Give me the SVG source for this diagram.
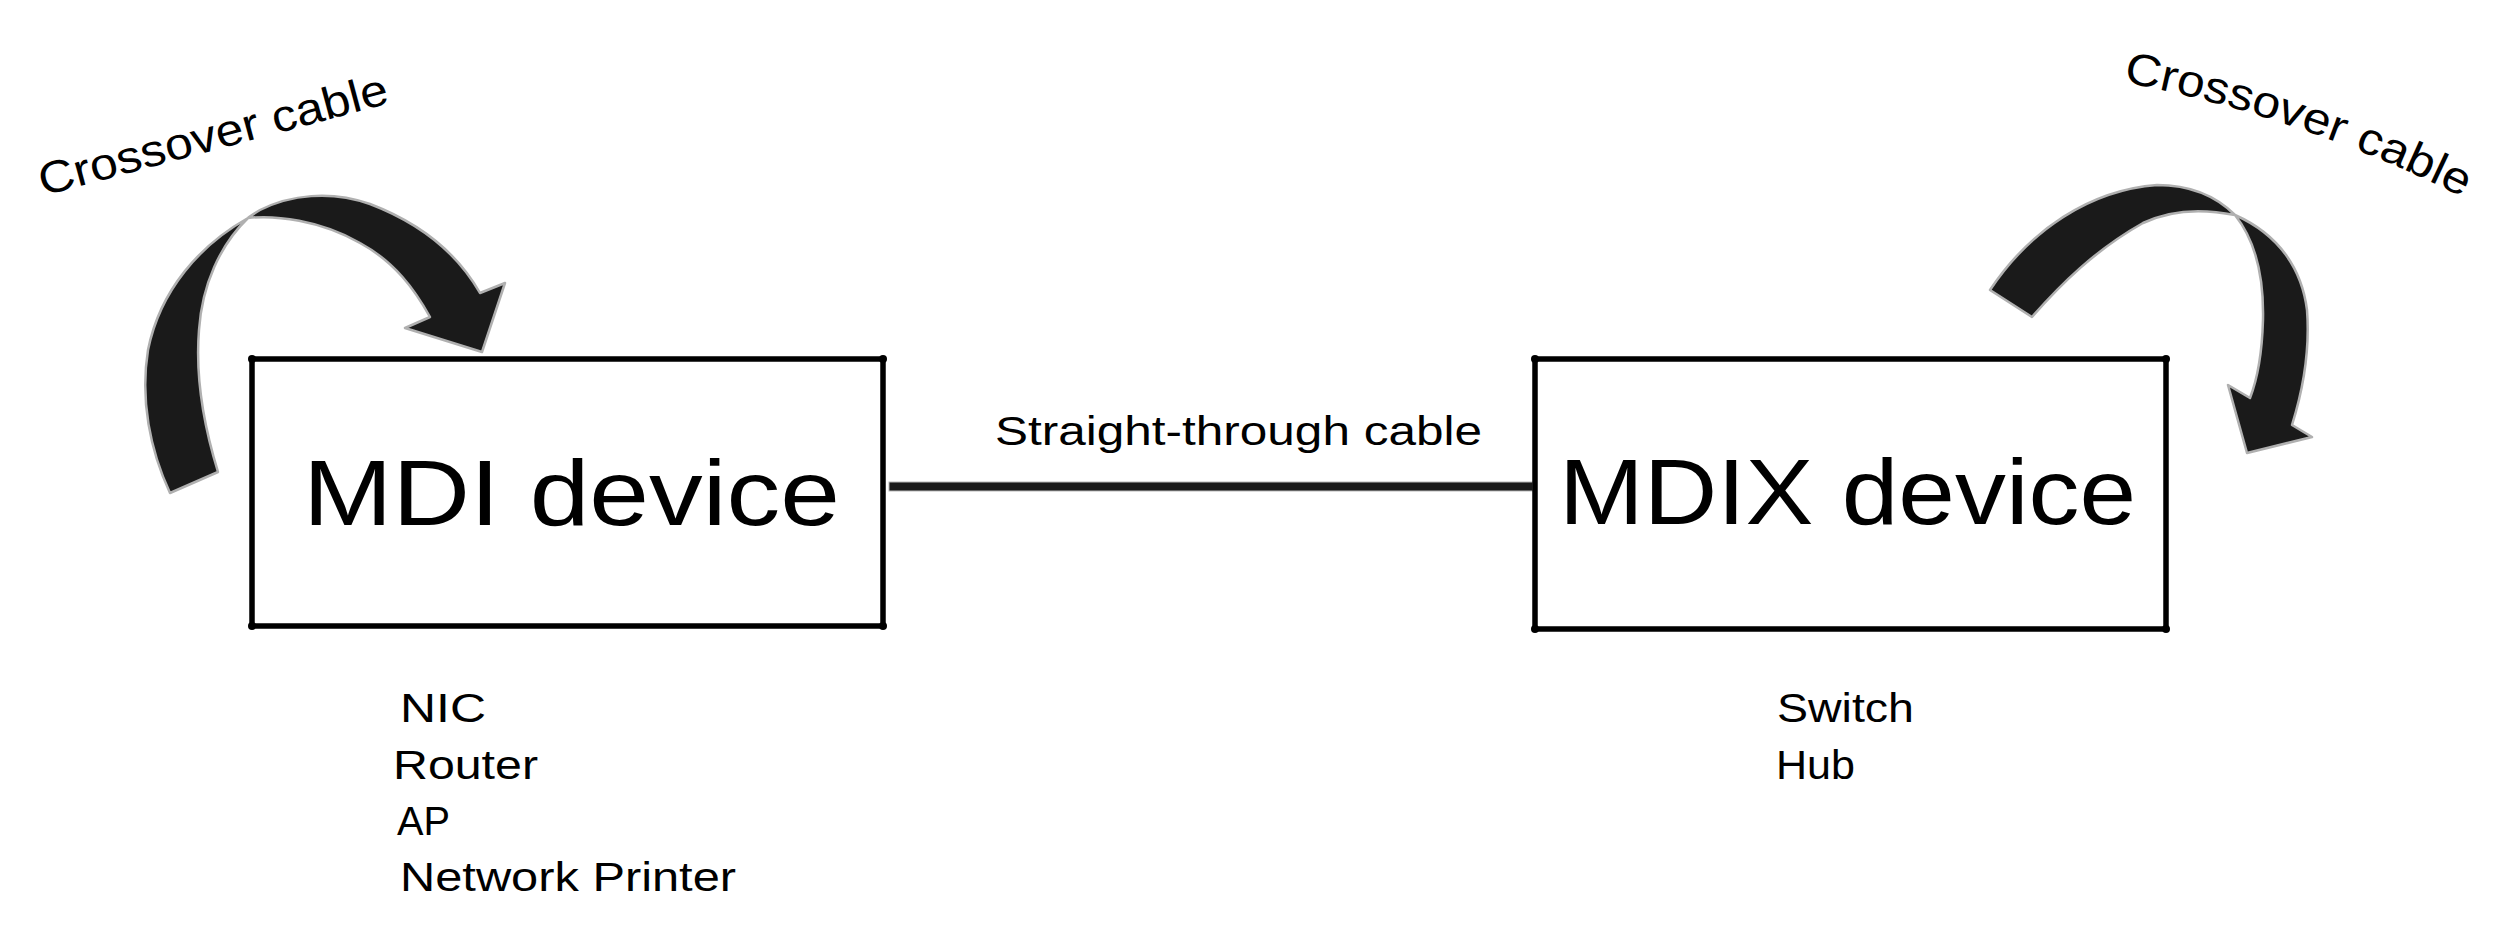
<svg xmlns="http://www.w3.org/2000/svg" width="2500" height="931" viewBox="0 0 2500 931">
<defs>
<style>
.box{fill:#fff;stroke:#000;stroke-width:5.5;stroke-linejoin:round}
.dot{fill:#000}
.big{font-family:"Liberation Sans",Arial,sans-serif;font-size:92px;fill:#000}
.lbl{font-family:"Liberation Sans",Arial,sans-serif;font-size:41px;fill:#000}
.cap{font-family:"Liberation Sans",Arial,sans-serif;font-size:45px;fill:#000}
.arrow{fill:#1a1a1a;stroke:#b0b0b0;stroke-width:2.5;stroke-linejoin:round}
</style>
<path id="rarc" d="M2123,82 Q2300,116 2460,196"/>
</defs>
<rect width="2500" height="931" fill="#fff"/>
<g id="connectors">
<rect x="889" y="482" width="644" height="9" fill="#1a1a1a" stroke="#b8b8b8" stroke-width="1"/>
<text class="lbl" x="995" y="445" textLength="487" lengthAdjust="spacingAndGlyphs">Straight-through cable</text>
<path class="arrow" d="M170,493 L218,472 C205,430 195,380 199,330 C202,285 220,245 248,218 C275,215 320,220 360,243 C395,262 415,290 430,317 L405,328 L482,352 L505,283 L480,293 C460,258 425,225 370,204 C330,190 290,195 260,210 C255,213 250,216 248,218 C200,245 160,290 148,350 C140,400 150,450 170,493 Z"/>
<text class="cap" transform="translate(43,196) rotate(-15)" textLength="360" lengthAdjust="spacingAndGlyphs">Crossover cable</text>
<path class="arrow" d="M1990,290 L2032,317 C2060,285 2095,250 2143,223 C2170,210 2200,208 2235,215 C2255,240 2264,275 2263,320 C2262,355 2257,380 2250,398 L2228,385 L2247,453 L2312,437 L2292,425 C2303,390 2310,350 2307,310 C2302,270 2280,235 2235,215 C2215,195 2190,185 2157,185 C2090,190 2030,230 1990,290 Z"/>
<text class="cap"><textPath href="#rarc" textLength="360" lengthAdjust="spacingAndGlyphs">Crossover cable</textPath></text>
</g>
<g id="mdi">
<rect class="box" x="252" y="359" width="631" height="267"/>
<circle class="dot" cx="252" cy="359" r="4"/><circle class="dot" cx="883" cy="359" r="4"/>
<circle class="dot" cx="252" cy="626" r="4"/><circle class="dot" cx="883" cy="626" r="4"/>
<text class="big" x="303" y="525" textLength="537" lengthAdjust="spacingAndGlyphs">MDI device</text>
</g>
<g id="mdix">
<rect class="box" x="1535" y="359" width="631" height="270"/>
<circle class="dot" cx="1535" cy="359" r="4"/><circle class="dot" cx="2166" cy="359" r="4"/>
<circle class="dot" cx="1535" cy="629" r="4"/><circle class="dot" cx="2166" cy="629" r="4"/>
<text class="big" x="1559" y="524" textLength="577" lengthAdjust="spacingAndGlyphs">MDIX device</text>
</g>
<g id="mdi-list">
<text class="lbl" x="400" y="722" textLength="86" lengthAdjust="spacingAndGlyphs">NIC</text>
<text class="lbl" x="393" y="779" textLength="145" lengthAdjust="spacingAndGlyphs">Router</text>
<text class="lbl" x="397" y="835" textLength="53" lengthAdjust="spacingAndGlyphs">AP</text>
<text class="lbl" x="400" y="891" textLength="336" lengthAdjust="spacingAndGlyphs">Network Printer</text>
</g>
<g id="mdix-list">
<text class="lbl" x="1777" y="722" textLength="137" lengthAdjust="spacingAndGlyphs">Switch</text>
<text class="lbl" x="1776" y="779" textLength="79" lengthAdjust="spacingAndGlyphs">Hub</text>
</g>
</svg>
